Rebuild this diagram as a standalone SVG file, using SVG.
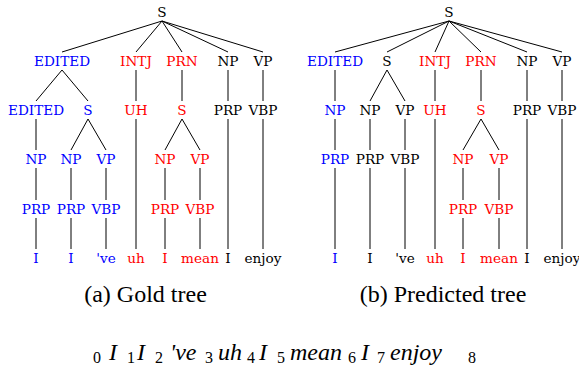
<svg xmlns="http://www.w3.org/2000/svg" width="579" height="367" viewBox="0 0 579 367">
<rect width="579" height="367" fill="#fff"/>
<g id="connectors" stroke="#000" stroke-width="1">
<line x1="162" y1="21" x2="62" y2="52"/>
<line x1="162" y1="21" x2="136" y2="52"/>
<line x1="162" y1="21" x2="182" y2="52"/>
<line x1="162" y1="21" x2="228" y2="52"/>
<line x1="162" y1="21" x2="263" y2="52"/>
<line x1="62" y1="70" x2="36" y2="101"/>
<line x1="62" y1="70" x2="88" y2="101"/>
<line x1="36" y1="119" x2="36" y2="150"/>
<line x1="36" y1="168" x2="36" y2="200"/>
<line x1="36" y1="218" x2="36" y2="249"/>
<line x1="88" y1="119" x2="71" y2="150"/>
<line x1="88" y1="119" x2="106" y2="150"/>
<line x1="71" y1="168" x2="71" y2="200"/>
<line x1="71" y1="218" x2="71" y2="249"/>
<line x1="106" y1="168" x2="106" y2="200"/>
<line x1="106" y1="218" x2="106" y2="249"/>
<line x1="136" y1="70" x2="136" y2="101"/>
<line x1="136" y1="119" x2="136" y2="249"/>
<line x1="182" y1="70" x2="182" y2="101"/>
<line x1="182" y1="119" x2="165" y2="150"/>
<line x1="182" y1="119" x2="200" y2="150"/>
<line x1="165" y1="168" x2="165" y2="200"/>
<line x1="165" y1="218" x2="165" y2="249"/>
<line x1="200" y1="168" x2="200" y2="200"/>
<line x1="200" y1="218" x2="200" y2="249"/>
<line x1="228" y1="70" x2="228" y2="101"/>
<line x1="228" y1="119" x2="228" y2="249"/>
<line x1="263" y1="70" x2="263" y2="101"/>
<line x1="263" y1="119" x2="263" y2="249"/>
<line x1="449" y1="21" x2="335" y2="52"/>
<line x1="449" y1="21" x2="387" y2="52"/>
<line x1="449" y1="21" x2="435" y2="52"/>
<line x1="449" y1="21" x2="481" y2="52"/>
<line x1="449" y1="21" x2="527" y2="52"/>
<line x1="449" y1="21" x2="562" y2="52"/>
<line x1="335" y1="70" x2="335" y2="101"/>
<line x1="335" y1="119" x2="335" y2="150"/>
<line x1="335" y1="168" x2="335" y2="249"/>
<line x1="387" y1="70" x2="370" y2="101"/>
<line x1="387" y1="70" x2="405" y2="101"/>
<line x1="370" y1="119" x2="370" y2="150"/>
<line x1="370" y1="168" x2="370" y2="249"/>
<line x1="405" y1="119" x2="405" y2="150"/>
<line x1="405" y1="168" x2="405" y2="249"/>
<line x1="435" y1="70" x2="435" y2="101"/>
<line x1="435" y1="119" x2="435" y2="249"/>
<line x1="481" y1="70" x2="481" y2="101"/>
<line x1="481" y1="119" x2="463" y2="150"/>
<line x1="481" y1="119" x2="499" y2="150"/>
<line x1="463" y1="168" x2="463" y2="200"/>
<line x1="463" y1="218" x2="463" y2="249"/>
<line x1="499" y1="168" x2="499" y2="200"/>
<line x1="499" y1="218" x2="499" y2="249"/>
<line x1="527" y1="70" x2="527" y2="101"/>
<line x1="527" y1="119" x2="527" y2="249"/>
<line x1="562" y1="70" x2="562" y2="101"/>
<line x1="562" y1="119" x2="562" y2="249"/>
</g>
<g id="gold-tree">
<g id="g-S"><text font-family="DejaVu Serif" font-size="13.6" text-anchor="middle" fill="#000" x="162" y="17">S</text></g>
<g id="g-EDITED"><text font-family="DejaVu Serif" font-size="13.6" text-anchor="middle" fill="#0000ff" x="62" y="66">EDITED</text></g>
<g id="g-INTJ"><text font-family="DejaVu Serif" font-size="13.6" text-anchor="middle" fill="#ff0000" x="136" y="66">INTJ</text></g>
<g id="g-PRN"><text font-family="DejaVu Serif" font-size="13.6" text-anchor="middle" fill="#ff0000" x="182" y="66">PRN</text></g>
<g id="g-NP"><text font-family="DejaVu Serif" font-size="13.6" text-anchor="middle" fill="#000" x="228" y="66">NP</text></g>
<g id="g-VP"><text font-family="DejaVu Serif" font-size="13.6" text-anchor="middle" fill="#000" x="263" y="66">VP</text></g>
<g id="g-EDITED2"><text font-family="DejaVu Serif" font-size="13.6" text-anchor="middle" fill="#0000ff" x="36" y="115">EDITED</text></g>
<g id="g-S2"><text font-family="DejaVu Serif" font-size="13.6" text-anchor="middle" fill="#0000ff" x="88" y="115">S</text></g>
<g id="g-UH"><text font-family="DejaVu Serif" font-size="13.6" text-anchor="middle" fill="#ff0000" x="136" y="115">UH</text></g>
<g id="g-S3"><text font-family="DejaVu Serif" font-size="13.6" text-anchor="middle" fill="#ff0000" x="182" y="115">S</text></g>
<g id="g-PRP"><text font-family="DejaVu Serif" font-size="13.6" text-anchor="middle" fill="#000" x="228" y="115">PRP</text></g>
<g id="g-VBP"><text font-family="DejaVu Serif" font-size="13.6" text-anchor="middle" fill="#000" x="263" y="115">VBP</text></g>
<g id="g-NP1"><text font-family="DejaVu Serif" font-size="13.6" text-anchor="middle" fill="#0000ff" x="36" y="164">NP</text></g>
<g id="g-NP2"><text font-family="DejaVu Serif" font-size="13.6" text-anchor="middle" fill="#0000ff" x="71" y="164">NP</text></g>
<g id="g-VP2"><text font-family="DejaVu Serif" font-size="13.6" text-anchor="middle" fill="#0000ff" x="106" y="164">VP</text></g>
<g id="g-NP3"><text font-family="DejaVu Serif" font-size="13.6" text-anchor="middle" fill="#ff0000" x="165" y="164">NP</text></g>
<g id="g-VP3"><text font-family="DejaVu Serif" font-size="13.6" text-anchor="middle" fill="#ff0000" x="200" y="164">VP</text></g>
<g id="g-PRP1"><text font-family="DejaVu Serif" font-size="13.6" text-anchor="middle" fill="#0000ff" x="36" y="214">PRP</text></g>
<g id="g-PRP2"><text font-family="DejaVu Serif" font-size="13.6" text-anchor="middle" fill="#0000ff" x="71" y="214">PRP</text></g>
<g id="g-VBP2"><text font-family="DejaVu Serif" font-size="13.6" text-anchor="middle" fill="#0000ff" x="106" y="214">VBP</text></g>
<g id="g-PRP3"><text font-family="DejaVu Serif" font-size="13.6" text-anchor="middle" fill="#ff0000" x="165" y="214">PRP</text></g>
<g id="g-VBP3"><text font-family="DejaVu Serif" font-size="13.6" text-anchor="middle" fill="#ff0000" x="200" y="214">VBP</text></g>
<g id="g-w1"><text font-family="DejaVu Serif" font-size="13.6" text-anchor="middle" fill="#0000ff" x="36" y="263">I</text></g>
<g id="g-w2"><text font-family="DejaVu Serif" font-size="13.6" text-anchor="middle" fill="#0000ff" x="71" y="263">I</text></g>
<g id="g-w3"><text font-family="DejaVu Serif" font-size="13.6" text-anchor="middle" fill="#0000ff" x="106" y="263">'ve</text></g>
<g id="g-w4"><text font-family="DejaVu Serif" font-size="13.6" text-anchor="middle" fill="#ff0000" x="136" y="263">uh</text></g>
<g id="g-w5"><text font-family="DejaVu Serif" font-size="13.6" text-anchor="middle" fill="#ff0000" x="165" y="263">I</text></g>
<g id="g-w6"><text font-family="DejaVu Serif" font-size="13.6" text-anchor="middle" fill="#ff0000" x="200" y="263">mean</text></g>
<g id="g-w7"><text font-family="DejaVu Serif" font-size="13.6" text-anchor="middle" fill="#000" x="228" y="263">I</text></g>
<g id="g-w8"><text font-family="DejaVu Serif" font-size="13.6" text-anchor="middle" fill="#000" x="263" y="263">enjoy</text></g>
</g>
<g id="pred-tree">
<g id="p-S"><text font-family="DejaVu Serif" font-size="13.6" text-anchor="middle" fill="#000" x="449" y="17">S</text></g>
<g id="p-EDITED"><text font-family="DejaVu Serif" font-size="13.6" text-anchor="middle" fill="#0000ff" x="335" y="66">EDITED</text></g>
<g id="p-S1"><text font-family="DejaVu Serif" font-size="13.6" text-anchor="middle" fill="#000" x="387" y="66">S</text></g>
<g id="p-INTJ"><text font-family="DejaVu Serif" font-size="13.6" text-anchor="middle" fill="#ff0000" x="435" y="66">INTJ</text></g>
<g id="p-PRN"><text font-family="DejaVu Serif" font-size="13.6" text-anchor="middle" fill="#ff0000" x="481" y="66">PRN</text></g>
<g id="p-NP"><text font-family="DejaVu Serif" font-size="13.6" text-anchor="middle" fill="#000" x="527" y="66">NP</text></g>
<g id="p-VP"><text font-family="DejaVu Serif" font-size="13.6" text-anchor="middle" fill="#000" x="562" y="66">VP</text></g>
<g id="p-NP1"><text font-family="DejaVu Serif" font-size="13.6" text-anchor="middle" fill="#0000ff" x="335" y="115">NP</text></g>
<g id="p-NP2"><text font-family="DejaVu Serif" font-size="13.6" text-anchor="middle" fill="#000" x="370" y="115">NP</text></g>
<g id="p-VP2"><text font-family="DejaVu Serif" font-size="13.6" text-anchor="middle" fill="#000" x="405" y="115">VP</text></g>
<g id="p-UH"><text font-family="DejaVu Serif" font-size="13.6" text-anchor="middle" fill="#ff0000" x="435" y="115">UH</text></g>
<g id="p-S3"><text font-family="DejaVu Serif" font-size="13.6" text-anchor="middle" fill="#ff0000" x="481" y="115">S</text></g>
<g id="p-PRP"><text font-family="DejaVu Serif" font-size="13.6" text-anchor="middle" fill="#000" x="527" y="115">PRP</text></g>
<g id="p-VBP"><text font-family="DejaVu Serif" font-size="13.6" text-anchor="middle" fill="#000" x="562" y="115">VBP</text></g>
<g id="p-PRP1"><text font-family="DejaVu Serif" font-size="13.6" text-anchor="middle" fill="#0000ff" x="335" y="164">PRP</text></g>
<g id="p-PRP2"><text font-family="DejaVu Serif" font-size="13.6" text-anchor="middle" fill="#000" x="370" y="164">PRP</text></g>
<g id="p-VBP2"><text font-family="DejaVu Serif" font-size="13.6" text-anchor="middle" fill="#000" x="405" y="164">VBP</text></g>
<g id="p-NP3"><text font-family="DejaVu Serif" font-size="13.6" text-anchor="middle" fill="#ff0000" x="463" y="164">NP</text></g>
<g id="p-VP3"><text font-family="DejaVu Serif" font-size="13.6" text-anchor="middle" fill="#ff0000" x="499" y="164">VP</text></g>
<g id="p-PRP3"><text font-family="DejaVu Serif" font-size="13.6" text-anchor="middle" fill="#ff0000" x="463" y="214">PRP</text></g>
<g id="p-VBP3"><text font-family="DejaVu Serif" font-size="13.6" text-anchor="middle" fill="#ff0000" x="499" y="214">VBP</text></g>
<g id="p-w1"><text font-family="DejaVu Serif" font-size="13.6" text-anchor="middle" fill="#0000ff" x="335" y="263">I</text></g>
<g id="p-w2"><text font-family="DejaVu Serif" font-size="13.6" text-anchor="middle" fill="#000" x="370" y="263">I</text></g>
<g id="p-w3"><text font-family="DejaVu Serif" font-size="13.6" text-anchor="middle" fill="#000" x="405" y="263">'ve</text></g>
<g id="p-w4"><text font-family="DejaVu Serif" font-size="13.6" text-anchor="middle" fill="#ff0000" x="435" y="263">uh</text></g>
<g id="p-w5"><text font-family="DejaVu Serif" font-size="13.6" text-anchor="middle" fill="#ff0000" x="463" y="263">I</text></g>
<g id="p-w6"><text font-family="DejaVu Serif" font-size="13.6" text-anchor="middle" fill="#ff0000" x="499" y="263">mean</text></g>
<g id="p-w7"><text font-family="DejaVu Serif" font-size="13.6" text-anchor="middle" fill="#000" x="527" y="263">I</text></g>
<g id="p-w8"><text font-family="DejaVu Serif" font-size="13.6" text-anchor="middle" fill="#000" x="562" y="263">enjoy</text></g>
</g>
<g id="captions">
<text font-family="Liberation Serif" font-size="24" text-anchor="middle" fill="#000" x="145.5" y="302">(a) Gold tree</text>
<text font-family="Liberation Serif" font-size="24" text-anchor="middle" fill="#000" x="443" y="302">(b) Predicted tree</text>
</g>
<g id="sentence">
<text font-family="Liberation Serif" font-size="16" fill="#000" x="93" y="363">0</text>
<text font-family="Liberation Serif" font-size="24" font-style="italic" fill="#000" x="109" y="360">I</text>
<text font-family="Liberation Serif" font-size="16" fill="#000" x="127" y="363">1</text>
<text font-family="Liberation Serif" font-size="24" font-style="italic" fill="#000" x="137" y="360">I</text>
<text font-family="Liberation Serif" font-size="16" fill="#000" x="155" y="363">2</text>
<text font-family="Liberation Serif" font-size="24" font-style="italic" fill="#000" x="170" y="360">'ve</text>
<text font-family="Liberation Serif" font-size="16" fill="#000" x="205" y="363">3</text>
<text font-family="Liberation Serif" font-size="24" font-style="italic" fill="#000" x="218" y="360">uh</text>
<text font-family="Liberation Serif" font-size="16" fill="#000" x="247" y="363">4</text>
<text font-family="Liberation Serif" font-size="24" font-style="italic" fill="#000" x="259" y="360">I</text>
<text font-family="Liberation Serif" font-size="16" fill="#000" x="277" y="363">5</text>
<text font-family="Liberation Serif" font-size="24" font-style="italic" fill="#000" x="290" y="360">mean</text>
<text font-family="Liberation Serif" font-size="16" fill="#000" x="348" y="363">6</text>
<text font-family="Liberation Serif" font-size="24" font-style="italic" fill="#000" x="361" y="360">I</text>
<text font-family="Liberation Serif" font-size="16" fill="#000" x="377" y="363">7</text>
<text font-family="Liberation Serif" font-size="24" font-style="italic" fill="#000" x="390" y="360">enjoy</text>
<text font-family="Liberation Serif" font-size="16" fill="#000" x="468" y="363">8</text>
</g>
</svg>
